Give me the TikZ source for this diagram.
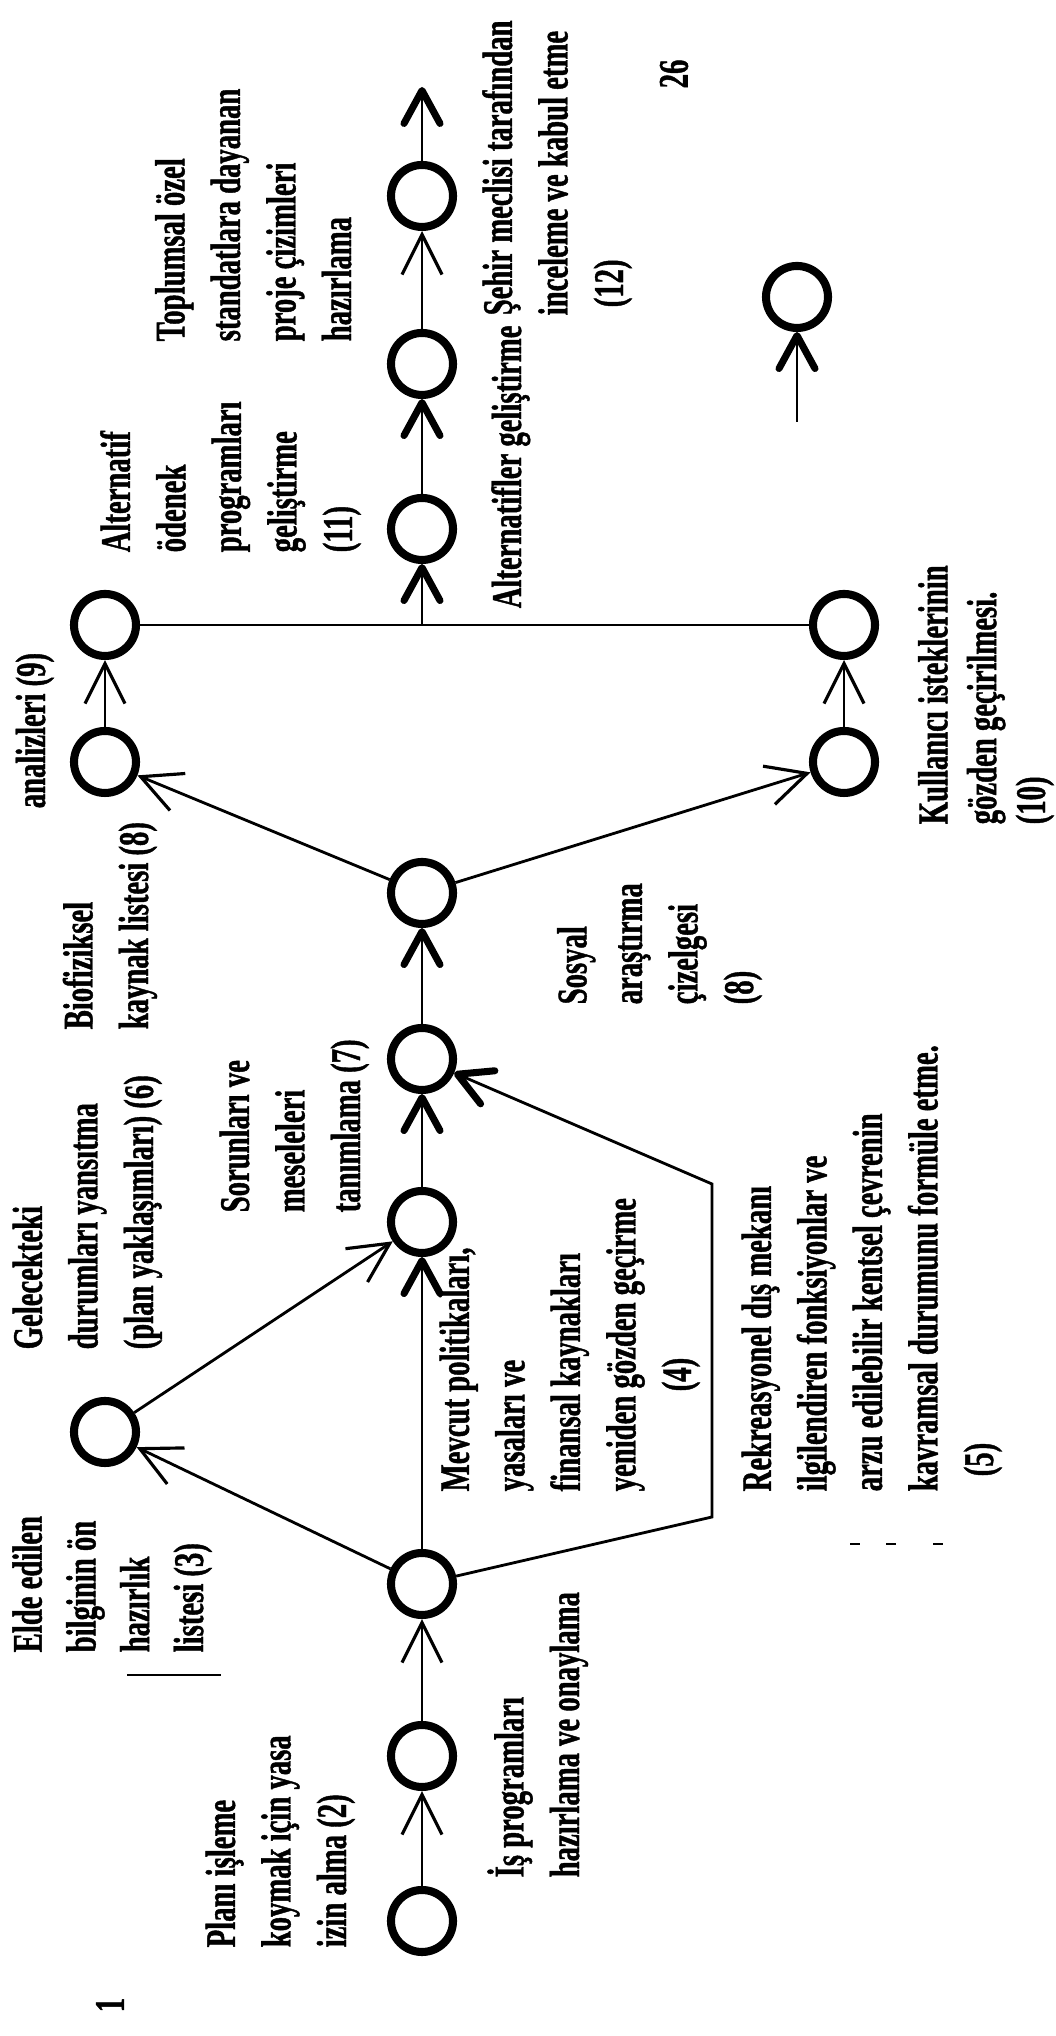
\documentclass[tikz,border=0pt]{standalone}
\usepackage{fontspec}
\newfontfamily\lblfont{Liberation Serif}[FakeStretch=0.68, FakeBold=1]
\usetikzlibrary{positioning}
\usetikzlibrary{arrows.meta}
\usetikzlibrary{calc}

\begin{document}
\begin{tikzpicture}[
      , stage/.style={circle, draw, line width=2.3pt, inner sep=0pt, minimum size=6.2mm}
      , lbl/.style={rotate=90, anchor=base west, align=left, inner sep=0pt, font={\lblfont\bfseries\fontsize{12}{15.8}\selectfont}}
      , link/.style={line width=0.8pt}
      , thinhead/.style={-{Straight Barb[length=4mm, width=4mm, line width=0.9pt]}}
      , boldhead/.style={-{Straight Barb[length=3.3mm, width=3.6mm, line width=2pt, round]}}
      , on grid
      ]

      \useasboundingbox (0,0) rectangle (10.55,20.36);

      % main column
      \node[stage] (A) at (4.22,1.15) {};
      \node[stage, above=1.65cm of A] (B) {};
      \node[stage, above=1.72cm of B] (C) {};
      \node[stage, above=3.62cm of C] (E) {};
      \node[stage, above=1.63cm of E] (F) {};
      \node[stage, above=1.66cm of F] (G) {};

      \node[stage] (D) at (1.05,6.04) {};
      \node[stage] (H) at (1.05,12.74) {};
      \node[stage, above=1.37cm of H] (I) {};
      \node[stage] (J) at (8.44,12.74) {};
      \node[stage, above=1.37cm of J] (K) {};

      \node[stage] (L) at (4.22,15.07) {};
      \node[stage, above=1.65cm of L] (M) {};
      \node[stage, above=1.68cm of M] (N) {};
      \coordinate[above=1.09cm of N] (out);

      \node[stage] (key) at (7.97,17.39) {};
      \coordinate[below=1.25cm of key] (key-in);

      \coordinate (fb-low) at (7.12,5.19);
      \coordinate (fb-high) at (fb-low |- 0,8.52);
      \coordinate (join) at (L |- I);

      \draw[link, thinhead] (A) -- (B);
      \draw[link, thinhead] (B) -- (C);
      \draw[link, thinhead] (C) -- (D);
      \draw[link, thinhead] (D) -- (E);
      \draw[link, boldhead] (C) -- (E);
      \draw[link, boldhead] (C) -- (fb-low) -- (fb-high) -- (F);
      \draw[link, boldhead] (E) -- (F);
      \draw[link, boldhead] (F) -- (G);
      \draw[link, thinhead] (G) -- (H);
      \draw[link, thinhead] (G) -- (J);
      \draw[link, thinhead] (H) -- (I);
      \draw[link, thinhead] (J) -- (K);
      \draw[link] (I) -- (K);
      \draw[link, boldhead] (join) -- (L);
      \draw[link, boldhead] (L) -- (M);
      \draw[link, thinhead] (M) -- (N);
      \draw[link, boldhead] (N) -- (out);
      \draw[link, boldhead] (key-in) -- (key);

      % labels (anchor sits on the last line)
      \node[lbl] (t-plan) at (3.46,0.88) {Planı işleme\\koymak için yasa\\izin alma (2)};
      \node[lbl] (t-is) at (5.79,1.58) {İş programları\\hazırlama ve onaylama};
      \node[lbl, font={\lblfont\bfseries\fontsize{12}{15.3}\selectfont}] (t-elde) at (2.03,3.83) {Elde edilen\\bilginin ön\\hazırlık\\listesi (3)};
      \node[lbl] (t-mevcut) at (6.91,5.44) {Mevcut politikaları,\\yasaları ve\\finansal kaynakları\\yeniden gözden geçirme\\\hspace*{1.0cm}(4)};
      \node[lbl] (t-rekreasyon) at (9.93,5.44) {Rekreasyonel dış mekanı\\ilgilendiren fonksiyonlar ve\\arzu edilebilir kentsel çevrenin\\kavramsal durumunu formüle etme.\\\hspace*{0.15cm}(5)};
      \node[lbl] (t-gelecek) at (1.53,6.86) {Gelecekteki\\durumları yansıtma\\(plan yaklaşımları) (6)};
      \node[lbl] (t-sorun) at (3.60,8.23) {Sorunları ve\\meseleleri\\tanımlama (7)};
      \node[lbl] (t-biofizik) at (1.48,10.06) {Biofiziksel\\kaynak listesi (8)};
      \node[lbl] (t-sosyal) at (7.53,10.31) {Sosyal\\araştırma\\çizelgesi\\(8)};
      \node[lbl] (t-analiz) at (0.45,12.27) {analizleri (9)};
      \node[lbl, font={\lblfont\bfseries\fontsize{12}{13.9}\selectfont}] (t-kullanici) at (10.45,12.11) {Kullanıcı isteklerinin\\gözden geçirilmesi.\\(10)};
      \node[lbl] (t-alternatif) at (3.52,14.83) {Alternatif\\ödenek\\programları\\geliştirme\\(11)};
      \node[lbl] (t-toplum) at (3.51,16.94) {Toplumsal özel\\standatlara dayanan\\proje çizimleri\\hazırlama};
      \node[lbl] (t-altgel) at (5.21,14.27) {Alternatifler geliştirme};
      \node[lbl] (t-sehir) at (6.23,17.20) {Şehir meclisi tarafından\\inceleme ve kabul etme\\\hspace*{0.08cm}(12)};
      \node[lbl, anchor=center] (page-no) at (6.74,19.62) {26};
      \node[lbl, anchor=center] (page-one) at (1.10,0.31) {1};

      % stray marks of the scan
      \draw[line width=0.6pt] (1.27,3.61) -- (2.21,3.61);
      \foreach \tx in {8.55,8.91,9.38}
        \draw[line width=0.6pt] (\tx-0.05,4.92) -- (\tx+0.05,4.92);
\end{tikzpicture}
\end{document}
